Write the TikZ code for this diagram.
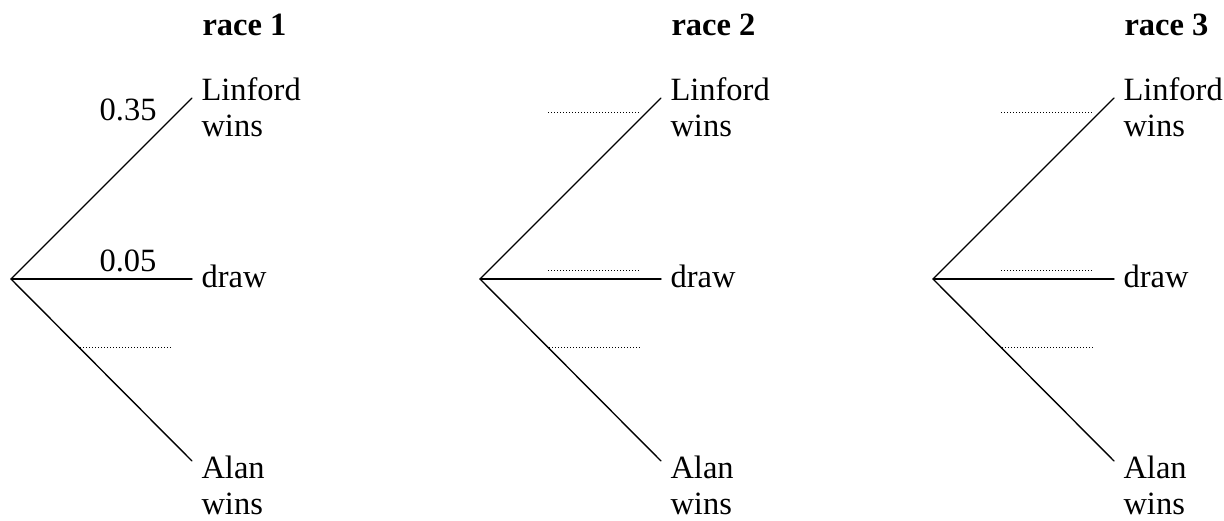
\documentclass[tikz,border=0pt]{standalone}
\usepackage{fontspec}
\setmainfont{Liberation Serif}
\tikzset{
  branch/.style={line width=0.55pt},
  blank/.style={line width=0.4pt,dash pattern=on 0.4pt off 0.8pt,line cap=butt},
  outcome/.style={anchor=base west,inner sep=0pt,align=left},
  racehead/.style={anchor=base west,inner sep=0pt,font=\fontsize{13}{14.4}\selectfont\bfseries},
  prob/.style={inner sep=0pt}
}
\begin{document}
\begin{tikzpicture}[x=0.4pt,y=-0.4pt,line join=round,line cap=round,font=\fontsize{13}{14.4}\selectfont]
	\useasboundingbox (0,0) rectangle (1224,520);
	\def\len{181};
	\foreach \k/\xr in {1/11,2/480,3/933}{
		% root and ends of the three branches
		\coordinate (r\k) at (\xr,279);
		\coordinate (l\k) at (\xr+\len,98);
		\coordinate (d\k) at (\xr+\len,279);
		\coordinate (a\k) at (\xr+\len,461);
		\draw[branch] (l\k) -- (r\k) -- (a\k);
		\draw[branch] (r\k) -- (d\k);
		\node[racehead] (t\k) at (\xr+191,35) {race \k};
		% base of a two-line node is its last line
		\node[outcome] (L\k) at (\xr+190,136) {Linford\\wins};
		\node[outcome] (D\k) at (\xr+190,287) {draw};
		\node[outcome] (A\k) at (\xr+190,514) {Alan\\wins};
		% blanks to fill in
		\draw[blank] (\xr+69,347) -- (\xr+161,347);
		\ifnum\k>1
			\draw[blank] (\xr+68,112) -- (\xr+160,112);
			\draw[blank] (\xr+68,270) -- (\xr+160,270);
		\fi
	}
	\node[prob,anchor=base east] (p1) at (157,120) {0.35};
	\node[prob,anchor=base] (p2) at (128,271) {0.05};
\end{tikzpicture}
\end{document}
